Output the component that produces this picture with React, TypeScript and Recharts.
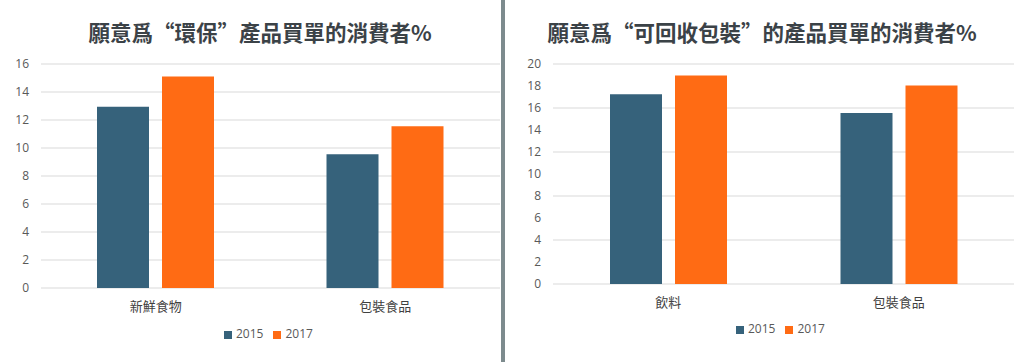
import { BarChart, Bar, XAxis, YAxis, CartesianGrid, Legend } from "recharts";

const leftTitle = "願意爲“環保”產品買單的消費者%";
const leftCategories = ["新鮮食物", "包裝食品"];
const leftValues2015 = [12.95, 9.55];
const leftValues2017 = [15.1, 11.55];
const leftTicks = [0, 2, 4, 6, 8, 10, 12, 14, 16];

const rightTitle = "願意爲“可回收包裝”的產品買單的消費者%";
const rightCategories = ["飲料", "包裝食品"];
const rightValues2015 = [17.25, 15.55];
const rightValues2017 = [18.95, 18.05];
const rightTicks = [0, 2, 4, 6, 8, 10, 12, 14, 16, 18, 20];

const COLOR_2015 = "#36627B";
const COLOR_2017 = "#FF6B14";
const FONT = "'Open Sans', 'Noto Sans CJK TC', sans-serif";

const build = (cats: string[], a: number[], b: number[]) =>
  cats.map((c, i) => ({ name: c, y2015: a[i], y2017: b[i] }));

interface PanelProps {
  title: string;
  titleCenter: number;
  data: { name: string; y2015: number; y2017: number }[];
  ticks: number[];
  left: number;
  width: number;
  yAxisWidth: number;
  bottom: number;
  legendTop: number;
  legendLeft: number;
  rightMargin: number;
}

function Panel(p: PanelProps) {
  const max = p.ticks[p.ticks.length - 1];
  return (
    <div style={{ position: "absolute", left: p.left, top: 0, width: p.width, height: 362 }}>
      <div
        style={{
          position: "absolute",
          left: p.titleCenter - 300,
          width: 600,
          top: 16,
          textAlign: "center",
          fontFamily: "'Noto Sans CJK TC', sans-serif",
          fontWeight: 700,
          fontSize: 21.5,
          color: "#3b4247",
          whiteSpace: "nowrap",
        }}
      >
        {p.title}
      </div>
      <BarChart
        width={p.width}
        height={362}
        data={p.data}
        margin={{ top: 64, right: p.rightMargin, bottom: p.bottom, left: 0 }}
        barGap={13}
        barSize={52}
      >
        <CartesianGrid vertical={false} stroke="#d9d9d9" />
        <XAxis
          dataKey="name"
          axisLine={false}
          tickLine={false}
          height={30}
          tickMargin={8}
          tick={{ fontSize: 13, fill: "#404040", fontFamily: "'Noto Sans CJK TC', sans-serif" }}
        />
        <YAxis
          width={p.yAxisWidth}
          domain={[0, max]}
          ticks={p.ticks}
          axisLine={false}
          tickLine={false}
          tickMargin={6}
          tick={{ fontSize: 12, fill: "#595959", fontFamily: FONT }}
        />
        <Legend
          verticalAlign="middle"
          align="center"
          iconType="square"
          iconSize={8}
          wrapperStyle={{
            top: p.legendTop,
            left: p.legendLeft,
            width: "auto",
            fontSize: 12,
            fontFamily: FONT,
            color: "#595959",
          }}
          formatter={(v: string) => <span style={{ color: "#595959" }}>{v}</span>}
        />
        <Bar dataKey="y2015" name="2015" fill={COLOR_2015} isAnimationActive={false} />
        <Bar dataKey="y2017" name="2017" fill={COLOR_2017} isAnimationActive={false} />
      </BarChart>
    </div>
  );
}

export default function App() {
  return (
    <div style={{ position: "absolute", left: 0, top: 0, width: 1020, height: 362, background: "#fff", overflow: "hidden" }}>
      <Panel
        title={leftTitle}
        titleCenter={260}
        data={build(leftCategories, leftValues2015, leftValues2017)}
        ticks={leftTicks}
        left={0}
        width={500}
        yAxisWidth={41}
        bottom={44}
        legendTop={325}
        legendLeft={224}
        rightMargin={0}
      />
      <div style={{ position: "absolute", left: 501, top: 0, width: 4, height: 362, background: "#7d8b8e" }} />
      <Panel
        title={rightTitle}
        titleCenter={257}
        data={build(rightCategories, rightValues2015, rightValues2017)}
        ticks={rightTicks}
        left={505}
        width={515}
        yAxisWidth={48}
        bottom={48}
        legendTop={320}
        legendLeft={231}
        rightMargin={6}
      />
    </div>
  );
}
